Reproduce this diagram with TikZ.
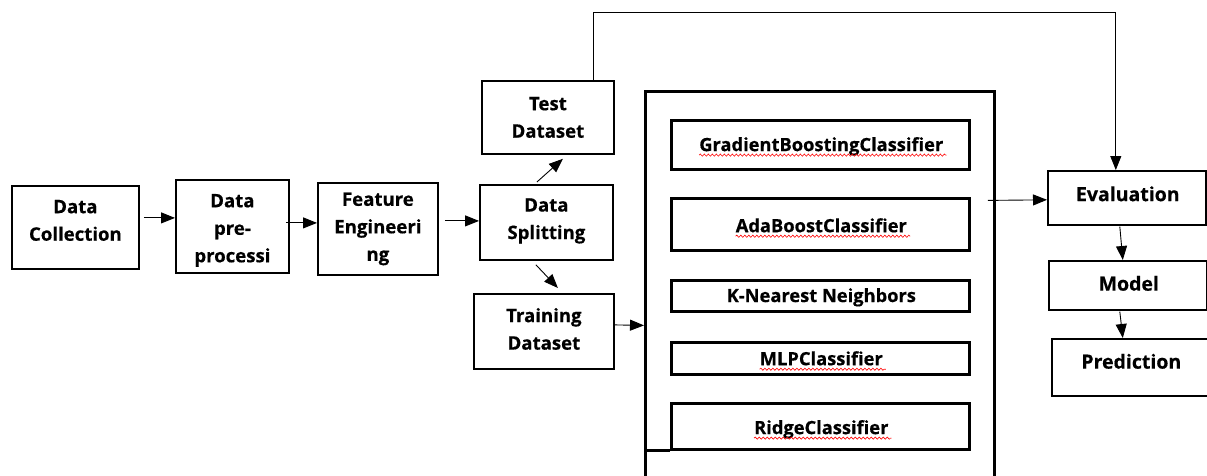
\documentclass[tikz,border=0pt]{standalone}
\usepackage{fontspec}
\setmainfont{Open Sans}[BoldFeatures={FakeBold=0.5}]
\usetikzlibrary{arrows.meta,calc,decorations.pathmorphing}
\tikzset{
  box/.style={draw, line width=1.8pt, inner sep=0pt, anchor=north west},
  cbox/.style={draw, line width=2.6pt, inner sep=0pt, anchor=north west},
  rbox/.style={draw, line width=1.6pt, inner sep=0pt, anchor=north west},
  bigbox/.style={draw, line width=2.8pt, inner sep=0pt, anchor=north west},
  txt/.style={align=center, font=\bfseries\fontsize{18.6}{27.5}\selectfont, text=black, inner sep=0pt},
  ctxt/.style={font=\bfseries\fontsize{18.3}{20}\selectfont, text=black, inner sep=0pt},
  rtxt/.style={font=\bfseries\fontsize{19.5}{20}\selectfont, text=black, inner sep=0pt},
  bigtip/.tip={Triangle[length=14pt,width=11pt]},
  arr/.style={line width=0.9pt, -bigtip},
  wavy/.style={red, line width=0.6pt, decorate, decoration={snake, amplitude=1.1pt, segment length=4pt}}
}
\begin{document}
\begin{tikzpicture}[x=1pt,y=-1pt]
\useasboundingbox (0,0) rectangle (1207,475);
\clip (0,0) rectangle (1207,475);

% left chain
\node[box, minimum width=127pt, minimum height=83pt] (dc) at (11,185) {};
\node[txt] (t-dc) at ($(dc.center)+(0,-7)$) {Data\\Collection};
\node[box, minimum width=113pt, minimum height=93pt] (dpp) at (175,179) {};
\node[txt] (t-dpp) at ($(dpp.center)+(0,4)$) {Data\\pre-\\processi};
\node[box, minimum width=120pt, minimum height=92pt] (fe) at (317,182) {};
\node[txt] (t-fe) at ($(fe.center)+(0,0)$) {Feature\\Engineeri\\ng};
\node[box, minimum width=132pt, minimum height=73pt] (test) at (481,80) {};
\node[txt] (t-test) at (test.center) {Test\\Dataset};
\node[box, minimum width=133pt, minimum height=75pt] (ds) at (479,184) {};
\node[txt] (t-ds) at ($(ds.center)+(0,-1.5)$) {Data\\Splitting};
\node[box, minimum width=140pt, minimum height=75pt] (train) at (473,293) {};
\node[txt] (t-train) at ($(train.center)+(0,-2.5)$) {Training\\Dataset};

% big model box
\node[bigbox, minimum width=349pt, minimum height=410pt] (big) at (644,90) {};
\node[cbox, minimum width=298pt, minimum height=49pt] (gbc) at (670,119) {};
\node[ctxt] (t-gbc) at ($(gbc.center)+(1,1.5)$) {GradientBoostingClassifier};
\node[cbox, minimum width=298pt, minimum height=52pt] (ada) at (670,197) {};
\node[ctxt] (t-ada) at ($(ada.center)+(1,1)$) {AdaBoostClassifier};
\node[cbox, minimum width=298pt, minimum height=31pt] (knn) at (670,279) {};
\node[ctxt] (t-knn) at ($(knn.center)+(1,1.5)$) {K-Nearest Neighbors};
\node[cbox, minimum width=298pt, minimum height=32pt] (mlp) at (670,341) {};
\node[ctxt] (t-mlp) at ($(mlp.center)+(1,0)$) {MLPClassifier};
\node[cbox, minimum width=298pt, minimum height=46pt] (ridge) at (670,402) {};
\node[ctxt] (t-ridge) at ($(ridge.center)+(1,3)$) {RidgeClassifier};
\draw[line width=2.6pt] (ridge.south west) -- (big.west |- ridge.south west);

\draw[wavy] ($(t-gbc.base west)+(0,4)$) -- ($(t-gbc.base east)+(3,4)$);
\draw[wavy] ($(t-ada.base west)+(0,4)$) -- ($(t-ada.base east)+(3,4)$);
\draw[wavy] ($(t-mlp.base west)+(0,4)$) -- ($(t-mlp.base east)+(3,4)$);
\draw[wavy] ($(t-ridge.base west)+(0,4)$) -- ($(t-ridge.base east)+(3,4)$);

% right chain
\node[rbox, minimum width=158pt, minimum height=54pt] (eval) at (1047,170) {};
\node[rtxt] (t-eval) at ($(eval.center)+(1,-4)$) {Evaluation};
\node[rbox, minimum width=158pt, minimum height=49pt] (model) at (1048,260) {};
\node[rtxt] (t-model) at ($(model.center)+(1,-2)$) {Model};
\node[rbox, minimum width=161pt, minimum height=57pt] (pred) at (1051,338) {};
\node[rtxt] (t-pred) at ($(pred.center)+(-1,-6)$) {Prediction};

% connectors
\draw[arr] ($(dc.east)+(4,-9.5)$) -- ($(dpp.west)+(0,-8.5)$);
\draw[arr] ($(dpp.east)+(-4,-3.5)$) -- ($(fe.west)+(0,-6)$);
\draw[arr] ($(fe.east)+(6,-8)$) -- ($(ds.west)+(0,-1.5)$);
\draw[arr] ($(ds.north)+(-9.5,-2)$) -- ($(test.south)+(15,4)$);
\draw[arr] ($(ds.south)+(-10.5,4)$) -- ($(train.north)+(14,-5)$);
\draw[arr] ($(train.east)+(0,-6.5)$) -- ($(big.west)+(0,29)$);
\draw[arr] ($(big.east)+(-8,-96)$) -- ($(eval.west)+(0,2)$);
\draw[arr] ($(test.north)+(46,0)$) -- ++(0,-68) -| ($(eval.north)+(-11,0)$);
\draw[arr] ($(eval.south)+(-7,1)$) -- ($(model.north)+(-5,0)$);
\draw[arr] ($(model.south)+(-8,1)$) -- ($(pred.north)+(-9.5,0)$);
\end{tikzpicture}
\end{document}
